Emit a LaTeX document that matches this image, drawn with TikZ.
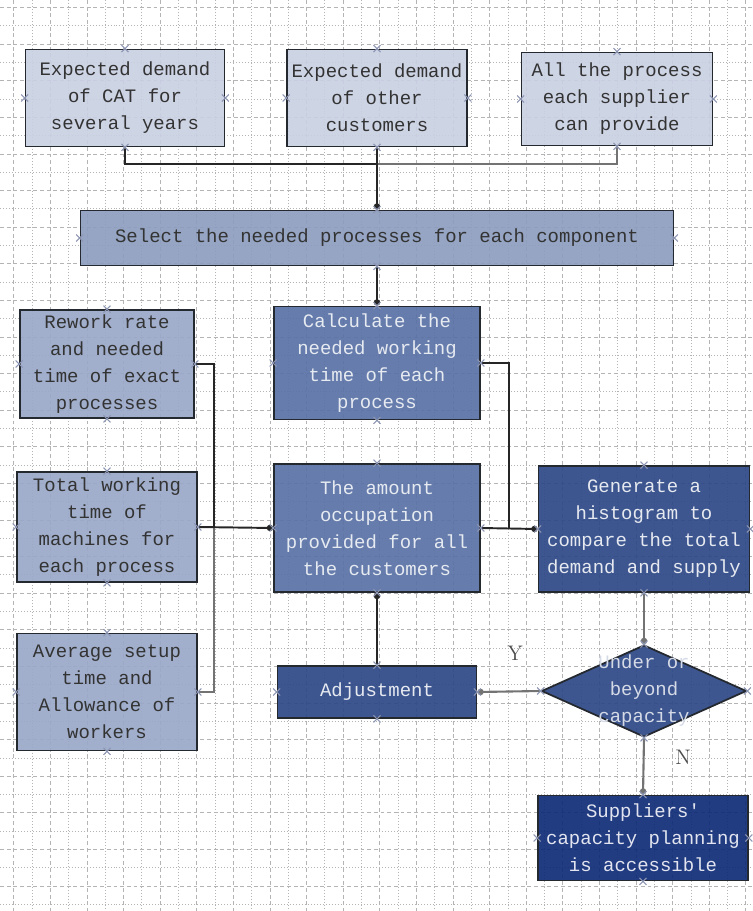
\documentclass[tikz,border=0pt]{standalone}
\usepackage{fontspec}
\setmonofont{Liberation Mono}
\usetikzlibrary{arrows.meta,shapes.geometric}
\definecolor{FlowGrid}{HTML}{B4B4B4}
\definecolor{FlowEdge}{HTML}{24282F}
\definecolor{InputPale}{HTML}{C9D0E2}
\definecolor{SelectFill}{HTML}{8C9DBE}
\definecolor{InputMid}{HTML}{99A8C8}
\definecolor{ProcFill}{HTML}{5971A5}
\definecolor{ProcDeep}{HTML}{2D4886}
\definecolor{ResultFill}{HTML}{0F2B76}
\definecolor{MarkTint}{HTML}{8C95B2}

\begin{document}
\begin{tikzpicture}[x=0.02cm,y=-0.02cm]
    \tikzset{
      box/.style={draw=FlowEdge,line width=1pt,fill opacity=0.92,text opacity=1,align=center,
        inner sep=0pt,font=\ttfamily\fontsize{10.8}{15.4}\selectfont},
      pale/.style={box,fill=InputPale,text=black!80},
      mid/.style={box,fill=InputMid,text=black!80},
      proc/.style={box,fill=ProcFill,text=white!85!ProcFill},
      deep/.style={box,fill=ProcDeep,text=white!88!ProcDeep},
      link/.style={draw=black!85,line width=0.8pt},
      greylink/.style={draw=black!55,line width=1.2pt},
      dotto/.style={-{Circle[length=3.6pt]}},
      gridmajor/.style={draw=FlowGrid,line width=0.35pt,dash pattern=on 2.2pt off 1.6pt},
      gridminor/.style={draw=FlowGrid,line width=0.35pt,dash pattern=on 0.5pt off 1.2pt},
      cmark/.style={draw=MarkTint,line width=0.6pt},
      tag/.style={font=\rmfamily\large,text=black!70}
    }
    \useasboundingbox (0,0) rectangle (752,911);
    % background grid
    \foreach \gx in {13.7,50.3,...,752} \draw[gridmajor] (\gx,0) -- (\gx,911);
    \foreach \gx in {32,68.6,...,752} \draw[gridminor] (\gx,0) -- (\gx,911);
    \foreach \gy in {7.5,44.1,...,911} \draw[gridmajor] (0,\gy) -- (752,\gy);
    \foreach \gy in {25.8,62.4,...,911} \draw[gridminor] (0,\gy) -- (752,\gy);

    % inputs
    \node[pale,minimum width=3.98cm,minimum height=1.94cm] (catdem) at (125,98) {Expected demand\\of CAT for\\several years};
    \node[pale,minimum width=3.6cm,minimum height=1.94cm] (othdem) at (377,98) {Expected demand\\of other\\customers};
    \node[pale,minimum width=3.82cm,minimum height=1.86cm] (supproc) at (617,99) {All the process\\each supplier\\can provide};
    \node[box,fill=SelectFill,text=black!80,minimum width=11.86cm,minimum height=1.1cm] (select) at (377,238) {Select the needed processes for each component};

    \node[mid,minimum width=3.48cm,minimum height=2.16cm] (rework) at (107,364) {Rework rate\\and needed\\time of exact\\processes};
    \node[mid,minimum width=3.6cm,minimum height=2.2cm] (totwork) at (107,527) {Total working\\time of\\machines for\\each process};
    \node[mid,minimum width=3.6cm,minimum height=2.34cm] (setup) at (107,692) {Average setup\\time and\\Allowance of\\workers};

    % processing
    \node[proc,minimum width=4.12cm,minimum height=2.26cm] (calc) at (377,363) {Calculate the\\needed working\\time of each\\process};
    \node[proc,minimum width=4.12cm,minimum height=2.56cm] (amount) at (377,528) {The amount\\occupation\\provided for all\\the customers};
    \node[deep,minimum width=4.22cm,minimum height=2.52cm] (histo) at (644,529) {Generate a\\histogram to\\compare the total\\demand and supply};
    \node[deep,minimum width=3.98cm,minimum height=1.04cm] (adjust) at (377,692) {Adjustment};
    \node[deep,diamond,minimum width=4.1cm,minimum height=1.84cm] (check) at (644,691) {};
    \node[box,draw=none,fill=none,text=white!80!ProcDeep] (checktext) at (check) {Under or\\beyond\\capacity};
    \node[box,fill=ResultFill,text=white!88!ResultFill,minimum width=4.2cm,minimum height=1.7cm] (result) at (643,838) {Suppliers'\\capacity planning\\is accessible};

    % connectors
    \draw[link] (catdem.south) |- (377,164);
    \draw[greylink] (supproc.south) |- (377,164);
    \draw[link,dotto] (othdem.south) -- (select.north);
    \draw[link,dotto] (select.south) -- (calc.north);
    \draw[link] (rework.east) -| (214,527);
    \draw[greylink] (setup.east) -| (214,527);
    \draw[link,dotto,line width=1.1pt] (totwork.east) -- (amount.west);
    \draw[link] (calc.east) -| (509,529);
    \draw[link,dotto,line width=1.1pt] (amount.east) -- (histo.west);
    \draw[link,dotto] (adjust.north) -- (amount.south);
    \draw[greylink,dotto] (histo.south) -- (check.north);
    \draw[greylink,dotto] (check.west) -- (adjust.east);
    \draw[greylink,dotto] (check.south) -- (result.north);
    \node[tag] (ytag) at (515,653) {Y};
    \node[tag] (ntag) at (683,757) {N};

    % connection point marks
    \foreach \n in {catdem,othdem,supproc,select,rework,totwork,setup,calc,amount,histo,adjust,check,result}
      \foreach \a in {north,south,east,west}
        \draw[cmark] ([shift={(-3.5,-3.5)}]\n.\a) -- ++(7,7) ([shift={(-3.5,3.5)}]\n.\a) -- ++(7,-7);
  \end{tikzpicture}
\end{document}
